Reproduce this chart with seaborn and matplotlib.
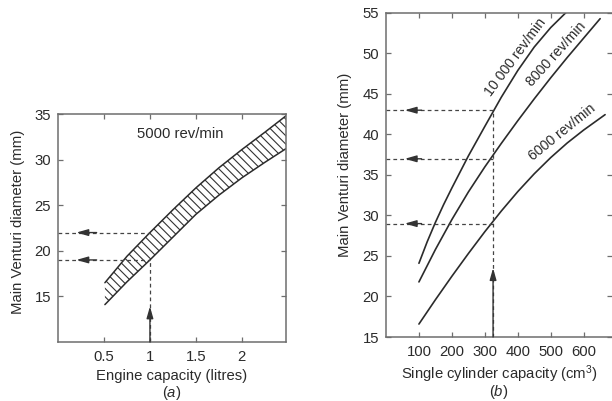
import numpy as np
import pandas as pd
import seaborn as sns
import matplotlib
matplotlib.use('Agg')
import matplotlib.pyplot as plt

# (a) 5000 rev/min band: engine capacity (litres) vs venturi diameter (mm)
cap_litres = [0.51, 0.75, 1.0, 1.25, 1.5, 1.75, 2.0, 2.25, 2.48]
band_upper = [16.5, 19.4, 22.0, 24.5, 26.9, 29.1, 31.1, 33.0, 34.8]
band_lower = [14.1, 16.6, 19.0, 21.5, 24.0, 26.1, 28.0, 29.7, 31.2]
read_a_x = 1.0
read_a_y = [22, 19]

# (b) single cylinder capacity (cm3) vs venturi diameter (mm)
cap_10000 = [100, 125, 150, 175, 200, 250, 300, 350, 400, 450, 500, 550]
dia_10000 = [24.1, 26.75, 29.15, 31.35, 33.4, 37.35, 41.0, 44.6, 47.9, 50.8, 53.2, 55.2]
cap_8000 = [100, 150, 200, 250, 300, 350, 400, 450, 500, 550, 600, 650]
dia_8000 = [21.8, 25.8, 29.5, 32.9, 36.0, 38.9, 41.7, 44.4, 47.0, 49.5, 51.9, 54.3]
cap_6000 = [100, 150, 200, 250, 300, 350, 400, 450, 500, 550, 600, 665]
dia_6000 = [16.6, 19.6, 22.5, 25.3, 28.0, 30.55, 32.95, 35.15, 37.15, 38.95, 40.55, 42.45]
read_b_x = 325
read_b_y = [43, 37, 29]

speed_labels = ['10 000 rev/min', '8000 rev/min', '6000 rev/min']

sns.set_theme(style='ticks')
plt.rcParams['font.family'] = ['Liberation Sans', 'DejaVu Sans']
plt.rcParams['mathtext.fontset'] = 'custom'
plt.rcParams['mathtext.rm'] = 'Liberation Sans'
plt.rcParams['mathtext.it'] = 'Liberation Sans:italic'
plt.rcParams['hatch.color'] = '#333333'
plt.rcParams['hatch.linewidth'] = 0.8

ink = '#2b2b2b'
spine = '#6e6e6e'
fs = 10.7

fig = plt.figure(figsize=(6.12, 4.01), dpi=100)
ax1 = fig.add_axes([0.0948, 0.1471, 0.3725, 0.5686])
ax2 = fig.add_axes([0.6307, 0.1596, 0.3693, 0.808])

dash = dict(color='#444444', lw=0.9, ls=(0, (3, 2.5)))
arrow = dict(arrowstyle='-|>,head_length=0.7,head_width=0.2', color='#333333',
             lw=1.0, shrinkA=0, shrinkB=0, mutation_scale=10)

# ---- (a)
df_a = pd.DataFrame({'cap': cap_litres, 'hi': band_upper, 'lo': band_lower})
ax1.fill_between(df_a['cap'], df_a['lo'], df_a['hi'], facecolor='white',
                 edgecolor='#333333', hatch='\\\\\\\\', linewidth=0)
sns.lineplot(data=df_a, x='cap', y='hi', ax=ax1, color=ink, lw=1.1)
sns.lineplot(data=df_a, x='cap', y='lo', ax=ax1, color=ink, lw=1.1)

for yv in read_a_y:
    ax1.plot([0, read_a_x], [yv, yv], **dash)
    ax1.annotate('', xy=(0.2, yv), xytext=(0.42, yv), arrowprops=arrow)
ax1.plot([read_a_x, read_a_x], [10, read_a_y[1]], **dash)
ax1.annotate('', xy=(read_a_x, 13.9), xytext=(read_a_x, 10), arrowprops=arrow)

ax1.text(1.33, 32.8, '5000 rev/min', ha='center', va='center', fontsize=fs, color=ink)

ax1.set_xlim(0, 2.48)
ax1.set_ylim(10, 35)
ax1.set_xticks([0.5, 1, 1.5, 2])
ax1.set_xticklabels(['0.5', '1', '1.5', '2'])
ax1.set_yticks([15, 20, 25, 30, 35])
ax1.set_xlabel('Engine capacity (litres)', fontsize=fs, color=ink)
ax1.xaxis.set_label_coords(0.5, -0.149)
ax1.xaxis.label.set_va('center')
ax1.text(0.5, -0.224, '($\\mathit{a}$)', transform=ax1.transAxes, ha='center',
         va='center', fontsize=fs, color=ink)
ax1.set_ylabel('Main Venturi diameter (mm)', fontsize=fs, color=ink)
ax1.yaxis.set_label_coords(-0.175, 0.526)
ax1.yaxis.label.set_va('center')

# ---- (b)
df_b = pd.concat([
    pd.DataFrame({'cap': cap_10000, 'dia': dia_10000, 'speed': speed_labels[0]}),
    pd.DataFrame({'cap': cap_8000, 'dia': dia_8000, 'speed': speed_labels[1]}),
    pd.DataFrame({'cap': cap_6000, 'dia': dia_6000, 'speed': speed_labels[2]}),
])
sns.lineplot(data=df_b, x='cap', y='dia', hue='speed', palette=[ink] * 3,
             estimator=None, sort=False, legend=False, lw=1.2, ax=ax2)

for yv in read_b_y:
    ax2.plot([0, read_b_x], [yv, yv], **dash)
    ax2.annotate('', xy=(57, yv), xytext=(108, yv), arrowprops=arrow)
ax2.plot([read_b_x, read_b_x], [15, read_b_y[0]], **dash)
ax2.annotate('', xy=(read_b_x, 23.5), xytext=(read_b_x, 15), arrowprops=arrow)

for txt, (tx, ty), rot in zip(speed_labels, [(392, 49.6), (516, 49.9), (536, 40.3)],
                              [53.5, 48, 39]):
    ax2.text(tx, ty, txt, rotation=rot, rotation_mode='anchor', ha='center',
             va='center', fontsize=10.2, color=ink)

ax2.set_xlim(0, 686)
ax2.set_ylim(15, 55)
ax2.set_xticks([100, 200, 300, 400, 500, 600])
ax2.set_yticks([15, 20, 25, 30, 35, 40, 45, 50, 55])
ax2.set_xlabel('Single cylinder capacity (cm$^3$)', fontsize=fs, color=ink)
ax2.xaxis.set_label_coords(0.5, -0.114)
ax2.xaxis.label.set_va('center')
ax2.text(0.5, -0.17, '($\\mathit{b}$)', transform=ax2.transAxes, ha='center',
         va='center', fontsize=fs, color=ink)
ax2.set_ylabel('Main Venturi diameter (mm)', fontsize=fs, color=ink)
ax2.yaxis.set_label_coords(-0.181, 0.53)
ax2.yaxis.label.set_va('center')
ax2.spines['right'].set_visible(False)

for ax in (ax1, ax2):
    for s in ax.spines.values():
        s.set_color(spine)
        s.set_linewidth(1.1)
    ax.tick_params(direction='in', length=3.5, width=0.9, color=spine,
                   top=True, right=True, labelsize=fs, labelcolor=ink)
    ax.tick_params(axis='x', pad=6)
    ax.tick_params(axis='y', pad=5)

fig.savefig('out.png', dpi=100)
